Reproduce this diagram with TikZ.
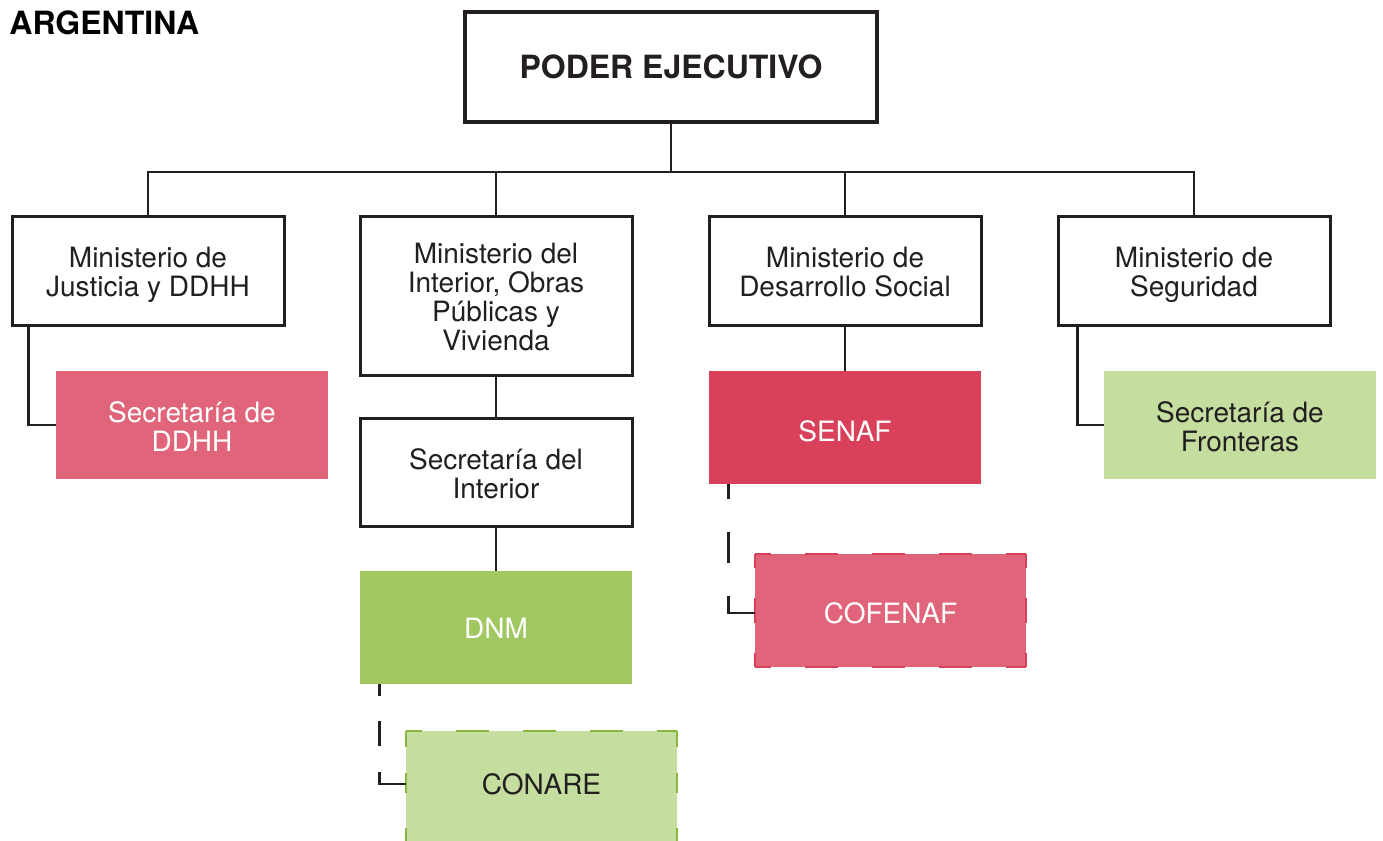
\documentclass[tikz,border=0pt]{standalone}
\usepackage{fontspec}
\setmainfont{TeX Gyre Heros}
\usetikzlibrary{calc}
\definecolor{redA}{HTML}{D9405A}
\definecolor{pinkA}{HTML}{E0657A}
\definecolor{greenA}{HTML}{A1C760}
\definecolor{greenL}{HTML}{C5DEA0}
\definecolor{greenB}{HTML}{86B540}
\definecolor{ink}{HTML}{231F20}
\newcommand{\mytab}[2][5.6pt]{\raisebox{0pt}[\dimexpr\height+#1\relax][\depth]{\begin{tabular}[t]{@{}c@{}}#2\end{tabular}}}
\tikzset{
  conn/.style={draw=ink, line width=1.2pt},
  dconn/.style={conn, dash pattern=on 15.5pt off 16.5pt on 15.5pt off 16.5pt on 40pt, dash phase=8pt},
  box/.style={rectangle, inner sep=0pt, minimum width=136pt,
    font=\fontsize{14pt}{14.5pt}\selectfont, text=ink},
  minbox/.style={box, draw=ink, line width=1.5pt, fill=white, minimum height=54.5pt},
  colbox/.style={box, minimum height=56.5pt},
  hdashed/.style={line width=1pt, dash pattern=on 16.5pt off 17pt, dash phase=8.25pt},
}
\begin{document}
\begin{tikzpicture}[x=0.5pt, y=-0.5pt]
\useasboundingbox (0,0) rectangle (1383,841);
\fill[white] (0,0) rectangle (1383,841);
\clip (0,0) rectangle (1383,841);

\node[anchor=base west, inner sep=0pt, font=\fontsize{16pt}{18pt}\selectfont\bfseries] (title) at (9,34) {ARGENTINA};

\node[box, draw=ink, line width=2.2pt, minimum width=206pt, minimum height=55pt,
  font=\fontsize{16pt}{18pt}\selectfont\bfseries] (poder) at (671,67) {PODER EJECUTIVO};

\node[minbox] (m1) at (148,270.5) {\mytab{Ministerio de\\Justicia y DDHH}};
\node[minbox, minimum height=79.5pt] (m2) at (496,295.5) {\mytab{Ministerio del\\Interior, Obras\\Públicas y\\Vivienda}};
\node[minbox] (m3) at (845,270.5) {\mytab{Ministerio de\\Desarrollo Social}};
\node[minbox] (m4) at (1194,270.5) {\mytab{Ministerio de\\Seguridad}};

\node[colbox, fill=pinkA, text=white, minimum height=54pt] (sddhh) at (192,425) {\mytab{Secretaría de\\DDHH}};
\node[minbox, minimum height=54pt] (sint) at (496,472) {\mytab{Secretaría del\\Interior}};
\node[colbox, fill=greenA, text=white] (dnm) at (496,627.5) {\mytab{DNM}};
\node[colbox, fill=greenL, minimum width=135.5pt] (conare) at (541.5,787.5) {\mytab[0.7pt]{CONARE}};
\node[colbox, fill=redA, text=white] (senaf) at (845,427.5) {\mytab[7.7pt]{SENAF}};
\node[colbox, fill=pinkA, text=white, minimum width=135.5pt] (cofenaf) at (890.5,610.5) {\mytab[7.2pt]{COFENAF}};
\node[colbox, fill=greenL, minimum height=54pt] (front) at (1240,425) {\mytab{Secretaría de\\Fronteras}};

% dashed borders
\draw[hdashed, draw=redA] (cofenaf.north west) -- (cofenaf.north east);
\draw[hdashed, draw=redA] (cofenaf.south west) -- (cofenaf.south east);
\draw[hdashed, draw=redA, dash pattern=on 14pt off 15pt on 12.5pt off 15pt, dash phase=7pt] (cofenaf.north west) -- (cofenaf.south west);
\draw[hdashed, draw=redA, dash pattern=on 14pt off 15pt on 12.5pt off 15pt, dash phase=7pt] (cofenaf.north east) -- (cofenaf.south east);

\draw[hdashed, draw=greenB] (conare.north west) -- (conare.north east);
\draw[hdashed, draw=greenB, dash pattern=on 16pt off 13pt on 10pt off 17.5pt, dash phase=8pt] (conare.north west) -- (conare.south west);
\draw[hdashed, draw=greenB, dash pattern=on 16pt off 13pt on 10pt off 17.5pt, dash phase=8pt] (conare.north east) -- (conare.south east);

% connectors
\coordinate (bus) at (671,172);
\draw[conn] (poder.south) -- (bus);
\draw[conn] (m1.north) |- (bus) -| (m4.north);
\draw[conn] (m2.north) -- (m2.north |- bus);
\draw[conn] (m3.north) -- (m3.north |- bus);

\draw[conn] ($(m1.south west)+(18,0)$) |- (sddhh.west);
\draw[conn] ($(m4.south west)+(21,0)$) |- (front.west);
\draw[conn] (m2.south) -- (sint.north);
\draw[conn] (sint.south) -- (dnm.north);
\draw[conn] (m3.south) -- (senaf.north);

\draw[dconn] ($(senaf.south west)+(20,0)$) |- ($(cofenaf.west)+(0,2.5)$);
\draw[conn, dash pattern=on 6pt off 12.5pt on 12.5pt off 13pt on 40pt] ($(dnm.south west)+(20,0)$) |- ($(conare.west)+(0,-3.5)$);
\end{tikzpicture}
\end{document}
